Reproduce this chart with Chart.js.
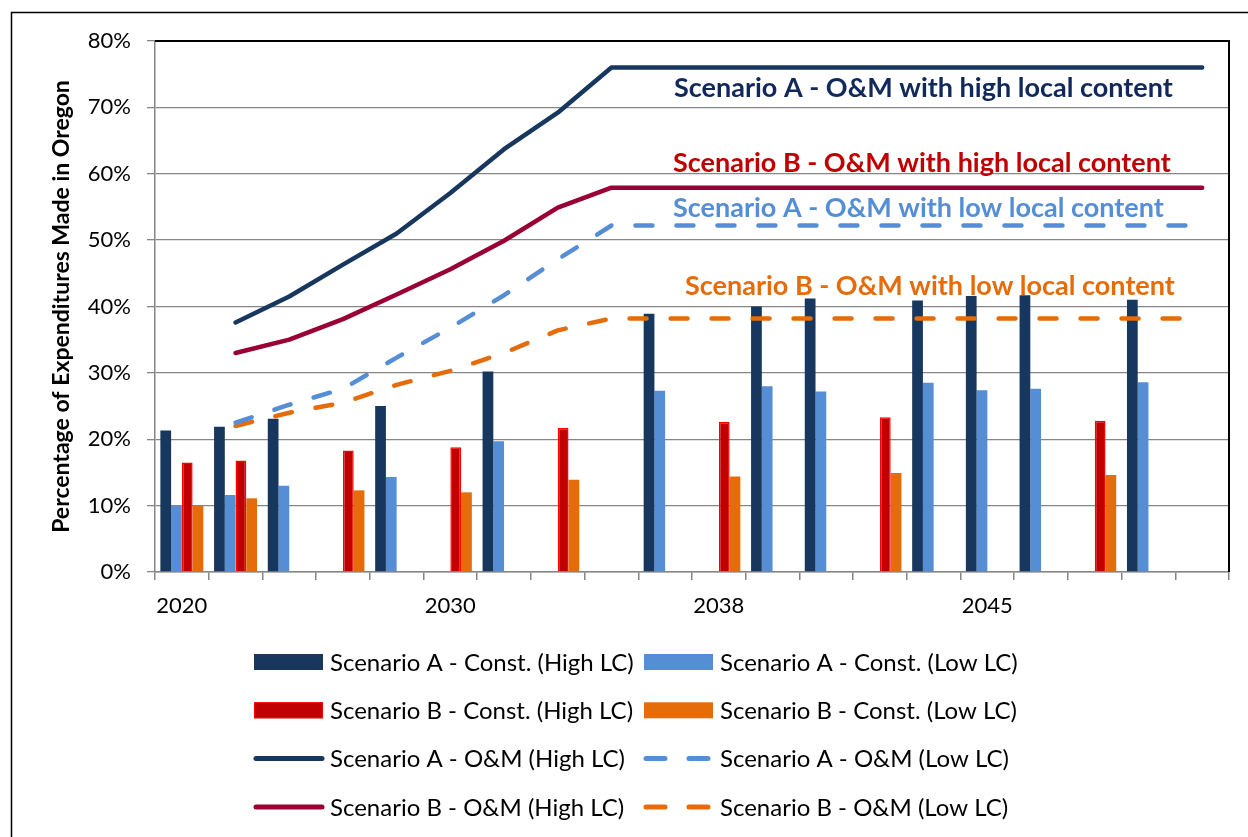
<!DOCTYPE html>
<html>
<head>
<meta charset="utf-8">
<script src="https://cdn.jsdelivr.net/npm/chart.js@4.4.1/dist/chart.umd.min.js"></script>
<style>
  html, body { margin: 0; padding: 0; background: #fff; }
  #wrap { width: 1248px; height: 837px; position: relative; }
</style>
</head>
<body>
<div id="wrap"><canvas id="chart" width="1248" height="837"></canvas></div>
<script>
// x categories (only every 5th one is labelled in the original)
const categories = ["2020", "", "", "", "", "2030", "", "", "", "", "2038", "", "", "", "", "2045", "", "", "", ""];

// construction spending, % made in Oregon
const constAHigh = [21.3, 21.9, 23.1, null, 25.0, null, 30.2, null, null, 38.9, null, 40.0, 41.2, null, 40.9, 41.6, 41.7, null, 41.0, null];
const constALow  = [10.0, 11.6, 13.0, null, 14.3, null, 19.7, null, null, 27.3, null, 28.0, 27.2, null, 28.5, 27.4, 27.6, null, 28.6, null];
const constBHigh = [16.5, 16.8, null, 18.3, null, 18.8, null, 21.7, null, null, 22.6, null, null, 23.3, null, null, null, 22.8, null, null];
const constBLow  = [10.0, 11.1, null, 12.3, null, 12.0, null, 13.9, null, null, 14.4, null, null, 14.9, null, null, null, 14.6, null, null];

// O&M spending, % made in Oregon
const omAHigh = [null, 37.6, 41.5, 46.3, 51.0, 57.1, 63.7, 69.2, 76.0, 76.0, 76.0, 76.0, 76.0, 76.0, 76.0, 76.0, 76.0, 76.0, 76.0, 76.0];
const omBHigh = [null, 33.0, 35.0, 38.1, 41.8, 45.6, 49.9, 54.9, 57.9, 57.9, 57.9, 57.9, 57.9, 57.9, 57.9, 57.9, 57.9, 57.9, 57.9, 57.9];
const omALow  = [null, 22.5, 25.2, 27.6, 32.3, 36.8, 41.7, 47.1, 52.2, 52.2, 52.2, 52.2, 52.2, 52.2, 52.2, 52.2, 52.2, 52.2, 52.2, 52.2];
const omBLow  = [null, 22.0, 24.0, 25.5, 28.2, 30.3, 33.0, 36.4, 38.2, 38.2, 38.2, 38.2, 38.2, 38.2, 38.2, 38.2, 38.2, 38.2, 38.2, 38.2];

const seriesNames = [
  "Scenario A - Const. (High LC)", "Scenario A - Const. (Low LC)",
  "Scenario B - Const. (High LC)", "Scenario B - Const. (Low LC)",
  "Scenario A - O&M (High LC)", "Scenario A - O&M (Low LC)",
  "Scenario B - O&M (High LC)", "Scenario B - O&M (Low LC)"
];

// text labels written inside the plot (value = baseline on the y scale)
const notes = [
  { text: "Scenario A - O&M with high local content", color: "#10285A", value: 71.6, dx: 519 },
  { text: "Scenario B - O&M with high local content", color: "#C00000", value: 60.2, dx: 518 },
  { text: "Scenario A - O&M with low local content",  color: "#558ED5", value: 53.5, dx: 518 },
  { text: "Scenario B - O&M with low local content",  color: "#E46C0A", value: 41.8, dx: 530 }
];

const NAVY = "#17375E", LBLUE = "#558ED5", RED = "#C00000", ORANGE = "#E46C0A", MAROON = "#990033";
const FONT = "Lato, 'Open Sans', sans-serif";

function lineSet(label, data, color, dashed) {
  return {
    type: "line", label: label, data: data, order: 0,
    borderColor: color, backgroundColor: color, borderWidth: 4.5,
    borderDash: dashed ? [17, 24] : [], borderCapStyle: "round", borderJoinStyle: "round",
    pointRadius: 0, tension: 0, spanGaps: false
  };
}

const frame = {
  id: "frame",
  beforeDraw(chart) {
    const ctx = chart.ctx;
    ctx.save();
    ctx.strokeStyle = "#000";
    ctx.lineWidth = 1.5;
    ctx.beginPath();
    ctx.moveTo(11.5, chart.height);
    ctx.lineTo(11.5, 12.5);
    ctx.lineTo(chart.width, 12.5);
    ctx.stroke();
    ctx.restore();
  },
  beforeDatasetsDraw(chart) {
    const { ctx, chartArea: a } = chart;
    ctx.save();
    ctx.strokeStyle = "#000";
    ctx.lineWidth = 2;
    ctx.beginPath();
    ctx.moveTo(a.left, a.top);
    ctx.lineTo(a.right, a.top);
    ctx.lineTo(a.right, a.bottom);
    ctx.stroke();
    ctx.restore();
  }
};

const labelsInPlot = {
  id: "labelsInPlot",
  afterDatasetsDraw(chart) {
    const { ctx, chartArea: a } = chart;
    const y = chart.scales.y;
    ctx.save();
    ctx.font = "bold 27px " + FONT;
    ctx.textAlign = "left";
    ctx.textBaseline = "alphabetic";
    notes.forEach(n => {
      ctx.fillStyle = n.color;
      ctx.fillText(n.text, a.left + n.dx, y.getPixelForValue(n.value));
    });
    ctx.restore();
  }
};

const gridLegend = {
  id: "gridLegend",
  afterDraw(chart) {
    const { ctx, chartArea: a } = chart;
    const cols = [254, 644];
    ctx.save();
    ctx.font = "24px " + FONT;
    ctx.textBaseline = "middle";
    ctx.textAlign = "left";
    chart.data.datasets.forEach((ds, i) => {
      const x = cols[i % 2];
      const y = a.bottom + 90 + Math.floor(i / 2) * 48.3;
      if (ds.type === "line") {
        ctx.strokeStyle = ds.borderColor;
        ctx.lineWidth = 5;
        ctx.lineCap = "round";
        ctx.setLineDash(ds.borderDash.length ? [19, 24] : []);
        ctx.beginPath();
        ctx.moveTo(x + 2, y);
        ctx.lineTo(x + 68, y);
        ctx.stroke();
        ctx.setLineDash([]);
      } else {
        ctx.fillStyle = ds.backgroundColor;
        ctx.fillRect(x, y - 8, 69, 16);
        if (ds.borderWidth) {
          ctx.strokeStyle = ds.borderColor;
          ctx.lineWidth = 1;
          ctx.strokeRect(x + 0.5, y - 7.5, 68, 15);
        }
      }
      ctx.fillStyle = "#000";
      ctx.fillText(ds.label, x + 76, y + 1);
    });
    ctx.restore();
  }
};

new Chart(document.getElementById("chart"), {
  type: "bar",
  data: {
    labels: categories,
    datasets: [
      { label: seriesNames[0], data: constAHigh, backgroundColor: NAVY, borderWidth: 0, order: 1 },
      { label: seriesNames[1], data: constALow, backgroundColor: LBLUE, borderWidth: 0, order: 1 },
      { label: seriesNames[2], data: constBHigh, backgroundColor: RED, borderColor: "#FF0000", borderWidth: 1.5, order: 1 },
      { label: seriesNames[3], data: constBLow, backgroundColor: ORANGE, borderWidth: 0, order: 1 },
      lineSet(seriesNames[4], omAHigh, NAVY, false),
      lineSet(seriesNames[5], omALow, LBLUE, true),
      lineSet(seriesNames[6], omBHigh, MAROON, false),
      lineSet(seriesNames[7], omBLow, ORANGE, true)
    ]
  },
  options: {
    responsive: false,
    devicePixelRatio: 1,
    animation: false,
    categoryPercentage: 0.8,
    barPercentage: 1.0,
    layout: { padding: { left: 0, right: 19, top: 41, bottom: 215 } },
    plugins: { legend: { display: false }, tooltip: { enabled: false } },
    scales: {
      x: {
        grid: { offset: true, drawOnChartArea: false, drawTicks: true, tickLength: 8, color: "#868686", lineWidth: 1.5 },
        border: { color: "#868686", width: 1.5 },
        ticks: { autoSkip: false, maxRotation: 0, color: "#000", padding: 13, font: { family: FONT, size: 22 } },
        afterFit: s => { s.height = 50; }
      },
      y: {
        min: 0, max: 80,
        grid: { color: "#868686", lineWidth: 1.3, tickLength: 8 },
        border: { color: "#868686", width: 1.5 },
        ticks: { stepSize: 10, color: "#000", padding: 16, font: { family: FONT, size: 22 }, callback: v => v + "%" },
        title: { display: true, text: "Percentage of Expenditures Made in Oregon", color: "#000",
                 font: { family: FONT, size: 23, weight: "bold" }, padding: { top: 48, bottom: 0 } },
        afterFit: s => { s.width = 155; }
      }
    }
  },
  plugins: [frame, labelsInPlot, gridLegend]
});
</script>
</body>
</html>
